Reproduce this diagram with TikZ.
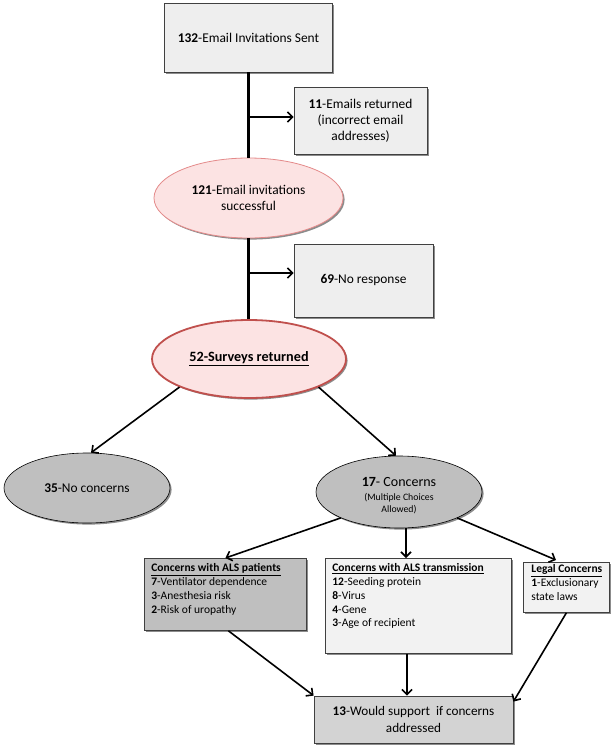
\documentclass[tikz,border=0pt]{standalone}
\usepackage{fontspec}
\setmainfont{Carlito}
\usetikzlibrary{shapes.geometric,shadows,arrows.meta,calc}
\definecolor{lightbox}{HTML}{EEEEEE}
\definecolor{paleBox}{HTML}{F2F2F2}
\definecolor{midgray}{HTML}{BFBFBF}
\definecolor{dgray}{HTML}{D3D3D3}
\definecolor{pinkfill}{HTML}{FCE3E3}
\definecolor{pinkline}{HTML}{E48A8A}
\definecolor{redline}{HTML}{C0504D}
\definecolor{edge}{HTML}{404040}
\tikzset{
  shad/.style={drop shadow={shadow xshift=1.6pt,shadow yshift=-1.6pt,opacity=0.45,fill=black}},
  flowbox/.style={draw=edge,line width=0.8pt,inner sep=0pt,align=center,shad,
     font=\fontsize{13.4}{16}\selectfont},
  listbox/.style={draw=edge,line width=0.8pt,inner sep=0pt,anchor=north west,shad,
     font=\fontsize{11.5}{13.7}\selectfont},
  oval/.style={ellipse,inner sep=0pt,align=center,shad,font=\fontsize{13.4}{16}\selectfont},
  trunk/.style={line width=2.2pt,black},
  link/.style={line width=1.6pt,black,-{Straight Barb[length=5pt,width=10pt]}},
}
\begin{document}
\begin{tikzpicture}[x=1pt,y=-1pt]
\useasboundingbox (0,0) rectangle (614,750);

\node[flowbox,fill=lightbox,minimum width=168pt,minimum height=69pt] (sent) at (248.5,37.5)
  {\textbf{132}-Email Invitations Sent};
\node[flowbox,fill=lightbox,minimum width=133pt,minimum height=67pt] (ret) at (360.5,120.5)
  {\textbf{11}-Emails returned\\(incorrect email\\addresses)};
\node[oval,fill=pinkfill,draw=pinkline,line width=0.8pt,minimum width=189pt,minimum height=80pt] (succ) at (248.5,198)
  {\textbf{121}-Email invitations\\successful};
\node[flowbox,fill=lightbox,minimum width=139pt,minimum height=73pt] (nores) at (363.5,280.5)
  {\textbf{69}-No response};
\node[oval,fill=pinkfill,draw=redline,line width=1.8pt,minimum width=194pt,minimum height=78pt,
  font=\fontsize{14.2}{16}\selectfont] (surv) at (249,359)
  {\textbf{\underline{52-Surveys returned}}};
\node[oval,fill=midgray,draw=black,line width=0.6pt,minimum width=166pt,minimum height=70pt] (nocon) at (87,488)
  {\textbf{35}-No concerns};
\node[oval,fill=midgray,draw=black,line width=0.6pt,minimum width=166pt,minimum height=72pt] (con) at (399,492)
  {\fontsize{14}{15}\selectfont\rule{0pt}{18pt}\textbf{17}- Concerns\\[-2pt]
   {\fontsize{9.8}{11.7}\selectfont\begin{tabular}[t]{@{}c@{}}(Multiple Choices\\Allowed)\end{tabular}}};

\node[listbox,fill=midgray] (pat) at (144,558)
  {\parbox[t][72pt][t]{162pt}{\vspace*{5.5pt}\hspace*{7pt}\parbox[t]{153pt}{\raggedright
   \textbf{\underline{Concerns with ALS patients}}\\
   \textbf{7}-Ventilator dependence\\
   \textbf{3}-Anesthesia risk\\
   \textbf{2}-Risk of uropathy}}};
\node[listbox,fill=paleBox] (trans) at (325,558)
  {\parbox[t][95pt][t]{186pt}{\vspace*{5.5pt}\hspace*{7pt}\parbox[t]{177pt}{\raggedright
   \textbf{\underline{Concerns with ALS transmission}}\\
   \textbf{12}-Seeding protein\\
   \textbf{8}-Virus\\
   \textbf{4}-Gene\\
   \textbf{3}-Age of recipient}}};
\node[listbox,fill=paleBox] (legal) at (523,562)
  {\parbox[t][50pt][t]{86pt}{\vspace*{2.5pt}\hspace*{8pt}\parbox[t]{78pt}{\raggedright
   \textbf{\underline{Legal Concerns}}\\
   \textbf{1}-Exclusionary\\
   state laws}}};
\node[flowbox,fill=dgray,minimum width=199pt,minimum height=47pt,font=\fontsize{13.2}{16.5}\selectfont] (supp) at (413.5,719.5)
  {\textbf{13}-Would support\ \ if concerns\\addressed};

% trunk lines
\draw[trunk] (sent.south) -- (sent.south |- succ.north);
\coordinate (j1) at (248.5,117);
\draw[link] (j1) -- (j1 -| ret.west);
\draw[trunk] (succ.south) -- (succ.south |- surv.north);
\coordinate (j2) at (248.5,273);
\draw[link] (j2) -- (j2 -| nores.west);

% branches
\draw[link] (surv.202) -- ($(nocon.north)+(4,0)$);
\draw[link] (surv.338) -- ($(con.north)+(-3,0)$);
\draw[link] (con.204) -- (pat.north);
\coordinate (cm) at ($(con.south)+(7,0)$);
\draw[link] (cm) -- (cm |- trans.north);
\draw[link] (con.336) -- ($(legal.north west)+(33,-2)$);

% to support
\draw[link] ($(pat.south)+(3,0)$) -- ($(supp.north west)+(0,0)$);
\coordinate (bm) at ($(trans.south west)+(82,0)$);
\draw[link] (bm) -- (bm |- supp.north);
\draw[link] (legal.south) -- ($(supp.north east)+(0,6)$);
\end{tikzpicture}
\end{document}
